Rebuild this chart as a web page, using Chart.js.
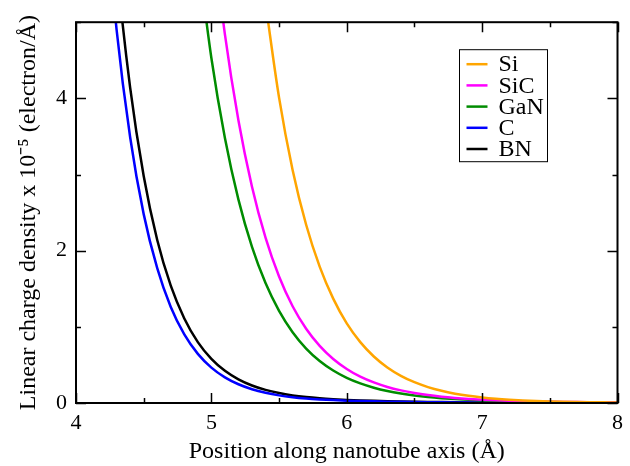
<!DOCTYPE html>
<html>
<head>
<meta charset="utf-8">
<script src="https://cdn.jsdelivr.net/npm/chart.js@4.4.0/dist/chart.umd.min.js"></script>
<style>
  html, body { margin: 0; padding: 0; background: #fff; }
</style>
</head>
<body>
<canvas id="densidadChart" width="630" height="466"></canvas>
<script>
// posiciones a lo largo del eje (Å)
var posicion = [4.2, 4.3, 4.4, 4.5, 4.6, 4.7, 4.8, 4.9, 5.0, 5.1,
                5.2, 5.3, 5.4, 5.5, 5.6, 5.7, 5.8, 5.9, 6.0, 6.1,
                6.2, 6.3, 6.4, 6.5, 6.6, 6.7, 6.8, 6.9, 7.0, 7.1,
                7.2, 7.3, 7.4, 7.5, 7.6, 7.7, 7.8, 7.9, 8.0];

// densidad lineal de carga (x 10^-5 electron/Å)
var si  = [null, null, null, null, null, null, null, null, null, null, null, null,
           5.25, 4.01, 3.06, 2.34, 1.79, 1.37, 1.045, 0.799,
           0.611, 0.467, 0.357, 0.273, 0.209, 0.160, 0.1228, 0.0945, 0.0729, 0.0564,
           0.0438, 0.0341, 0.0267, 0.0210, 0.0166, 0.0132, 0.0105, 0.0084, 0.0068];
var sic = [null, null, null, null, null, null, null, null,
           6.32, 4.84, 3.71, 2.84, 2.17, 1.66, 1.27, 0.975, 0.750, 0.578, 0.447, 0.346,
           0.270, 0.211, 0.166, 0.131, 0.104, 0.083, 0.0668, 0.0541, 0.0441, 0.0362,
           0.0298, 0.0246, 0.0204, 0.0170, 0.0142, 0.0119, 0.0100, 0.0084, 0.0071];
var gan = [null, null, null, null, null, null, null,
           5.90, 4.53, 3.48, 2.67, 2.05, 1.575, 1.21, 0.93, 0.715, 0.551, 0.426, 0.330, 0.257,
           0.201, 0.158, 0.125, 0.099, 0.079, 0.0636, 0.0515, 0.0420, 0.0344, 0.0284,
           0.0235, 0.0195, 0.0162, 0.0135, 0.0113, 0.0095, 0.0080, 0.0067, 0.0056];
var c   = [6.88, 4.90, 3.49, 2.48, 1.77, 1.26, 0.90, 0.645, 0.465, 0.337,
           0.246, 0.181, 0.134, 0.100, 0.076, 0.059, 0.047, 0.038, 0.031, 0.026,
           0.0215, 0.018, 0.015, 0.0125, 0.0105, 0.0088, 0.0074, 0.0062, 0.0052, 0.0044,
           0.0037, 0.0031, 0.0026, 0.0022, 0.0018, 0.0015, 0.0013, 0.0011, 0.0009];
var bn  = [8.0, 5.76, 4.14, 2.98, 2.14, 1.54, 1.11, 0.80, 0.58, 0.423,
           0.311, 0.230, 0.172, 0.130, 0.0995, 0.0775, 0.0616, 0.0499, 0.041, 0.034,
           0.0283, 0.0236, 0.0197, 0.0165, 0.0138, 0.0116, 0.0097, 0.0082, 0.0069, 0.0058,
           0.0049, 0.0041, 0.0035, 0.0029, 0.0025, 0.0021, 0.0018, 0.0015, 0.0013];

var etiquetas = ['Si', 'SiC', 'GaN', 'C', 'BN'];
var colores = ['#FFA500', '#FF00FF', '#008C00', '#0000FF', '#000000'];
var series = [si, sic, gan, c, bn];

var xTicks = [4, 5, 6, 7, 8];
var xMinor = [4.5, 5.5, 6.5, 7.5];
var yTicks = [0, 2, 4];
var yMinor = [1, 3, 5];

var fuente = "'Liberation Serif', 'Times New Roman', serif";

function puntos(valores) {
    return posicion.map(function (x, i) { return { x: x, y: valores[i] }; })
                   .filter(function (p) { return p.y !== null; });
}

// marco, marcas interiores y leyenda estilo xmgrace
var marcoPlugin = {
    id: 'marco',
    afterDatasetsDraw: function (chart) {
        var ctx = chart.ctx;
        var a = chart.chartArea;
        var xs = chart.scales.x, ys = chart.scales.y;
        ctx.save();
        ctx.strokeStyle = '#000';
        ctx.lineWidth = 1.5;
        ctx.beginPath();
        function marcaX(v, len) {
            var px = Math.round(xs.getPixelForValue(v)) + 0.5;
            ctx.moveTo(px, a.bottom); ctx.lineTo(px, a.bottom - len);
            ctx.moveTo(px, a.top); ctx.lineTo(px, a.top + len);
        }
        function marcaY(v, len) {
            var py = Math.round(ys.getPixelForValue(v)) + 0.5;
            ctx.moveTo(a.left, py); ctx.lineTo(a.left + len, py);
            ctx.moveTo(a.right, py); ctx.lineTo(a.right - len, py);
        }
        xTicks.forEach(function (v) { marcaX(v, 10); });
        xMinor.forEach(function (v) { marcaX(v, 5); });
        yTicks.forEach(function (v) { marcaY(v, 10); });
        yMinor.forEach(function (v) { marcaY(v, 5); });
        ctx.stroke();

        ctx.lineWidth = 2;
        ctx.strokeRect(a.left, a.top, a.right - a.left, a.bottom - a.top);

        // leyenda
        var lx = a.left + 383.5, ly = a.top + 27.5;
        ctx.lineWidth = 1;
        ctx.strokeStyle = '#000';
        ctx.strokeRect(lx, ly, 88, 112);
        ctx.font = '24px ' + fuente;
        ctx.textBaseline = 'middle';
        ctx.textAlign = 'left';
        chart.data.datasets.forEach(function (ds, i) {
            var yy = ly + 14.5 + i * 21.2;
            ctx.strokeStyle = ds.borderColor;
            ctx.lineWidth = 2.5;
            ctx.beginPath();
            ctx.moveTo(lx + 7, yy); ctx.lineTo(lx + 28, yy);
            ctx.stroke();
            ctx.fillStyle = '#000';
            ctx.fillText(ds.label, lx + 39, yy + 1);
        });
        ctx.restore();
    }
};

var ctx = document.getElementById('densidadChart').getContext('2d');
var densidadChart = new Chart(ctx, {
    type: 'line',
    data: {
        datasets: series.map(function (s, i) {
            return {
                label: etiquetas[i],
                data: puntos(s),
                borderColor: colores[i],
                backgroundColor: colores[i],
                borderWidth: 2.5,
                pointRadius: 0,
                fill: false,
                cubicInterpolationMode: 'monotone',
                clip: 0
            };
        })
    },
    options: {
        responsive: false,
        animation: false,
        devicePixelRatio: 1,
        layout: { padding: { top: 20, right: 7, left: 0, bottom: 0 } },
        plugins: {
            legend: { display: false },
            tooltip: { enabled: false }
        },
        scales: {
            x: {
                type: 'linear',
                min: 4,
                max: 8,
                afterBuildTicks: function (s) { s.ticks = xTicks.map(function (v) { return { value: v }; }); },
                afterFit: function (s) { s.height = 63; },
                grid: { display: false, drawTicks: false },
                border: { display: false },
                ticks: { color: '#000', font: { family: fuente, size: 22 }, padding: 7, maxRotation: 0 },
                title: {
                    display: true,
                    text: 'Position along nanotube axis (Å)',
                    color: '#000',
                    font: { family: fuente, size: 24 },
                    padding: { top: 0, bottom: 0 }
                }
            },
            y: {
                type: 'linear',
                min: 0,
                max: 5,
                afterBuildTicks: function (s) { s.ticks = yTicks.map(function (v) { return { value: v }; }); },
                afterFit: function (s) { s.width = 76; },
                grid: { display: false, drawTicks: false },
                border: { display: false },
                ticks: { color: '#000', font: { family: fuente, size: 22 }, padding: 9 },
                title: {
                    display: true,
                    text: 'Linear charge density x 10⁻⁵ (electron/Å)',
                    color: '#000',
                    font: { family: fuente, size: 24 },
                    padding: { top: 14, bottom: 0 }
                }
            }
        }
    },
    plugins: [marcoPlugin]
});
</script>
</body>
</html>
